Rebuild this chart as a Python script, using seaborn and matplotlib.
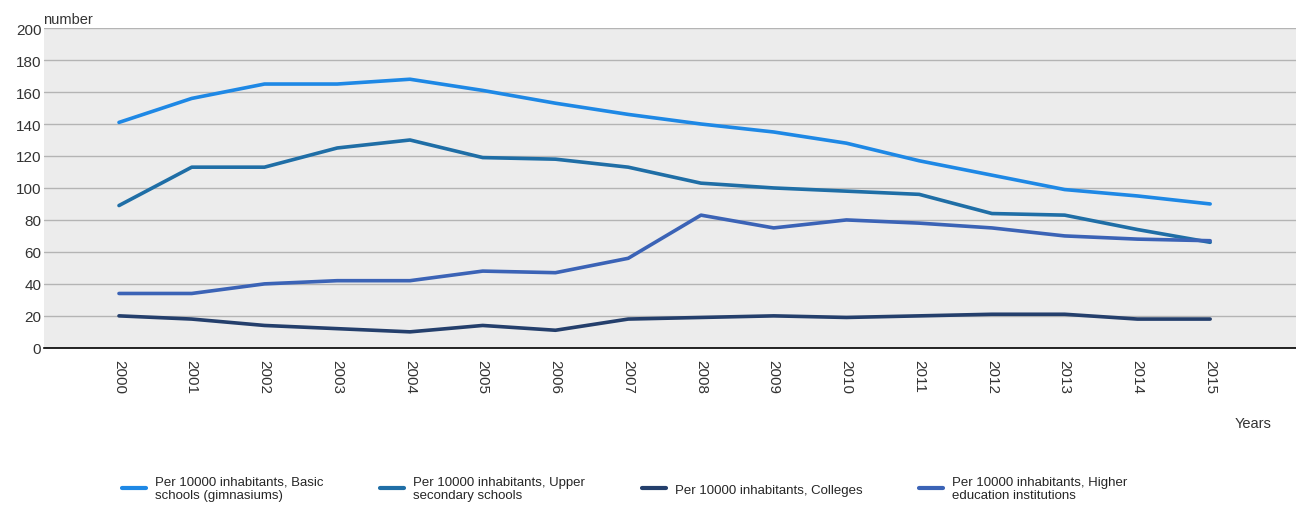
import pandas as pd
import seaborn as sns
import matplotlib.pyplot as plt

# dati
years = [str(y) for y in range(2000, 2016)]
basic = [141, 156, 165, 165, 168, 161, 153, 146, 140, 135, 128, 117, 108, 99, 95, 90]
upper = [89, 113, 113, 125, 130, 119, 118, 113, 103, 100, 98, 96, 84, 83, 74, 66]
colleges = [20, 18, 14, 12, 10, 14, 11, 18, 19, 20, 19, 20, 21, 21, 18, 18]
higher = [34, 34, 40, 42, 42, 48, 47, 56, 83, 75, 80, 78, 75, 70, 68, 67]

labels = ["Per 10000 inhabitants, Basic\nschools (gimnasiums)",
          "Per 10000 inhabitants, Upper\nsecondary schools",
          "Per 10000 inhabitants, Colleges",
          "Per 10000 inhabitants, Higher\neducation institutions"]
colors = ["#1e88e5", "#1f6ea6", "#243f6c", "#3b63b6"]

df = pd.DataFrame({"year": years * 4,
                   "value": basic + upper + colleges + higher,
                   "series": [l for l in labels for _ in years]})

sns.set_style("white")
plt.rcParams['font.family'] = ['Liberation Sans', 'DejaVu Sans']

fig = plt.figure(figsize=(12.96, 5.10), dpi=100)
ax = fig.add_axes([0.034, 0.316, 0.966, 0.627])
ax.set_facecolor("#ececec")

sns.lineplot(data=df, x="year", y="value", hue="series", palette=colors,
             linewidth=2.6, ax=ax, legend=False, sort=False)

ax.set_ylim(0, 200)
ax.set_yticks(range(0, 201, 20))
ax.set_xlim(-1.03, 16.18)
ax.grid(axis="y", color="#b4b4b4", linewidth=1)
ax.set_axisbelow(True)
for s in ["top", "right", "left"]:
    ax.spines[s].set_visible(False)
ax.spines["bottom"].set_color("black")
ax.spines["bottom"].set_linewidth(1.2)
ax.tick_params(axis="x", rotation=-90, labelsize=11, length=0, pad=8, colors="#333333")
ax.tick_params(axis="y", labelsize=11, length=0, pad=2, colors="#333333")
ax.set_xlabel("")
ax.set_ylabel("")

fig.text(0.033, 0.948, "number", fontsize=10.5, color="#333333", va="bottom")
fig.text(0.953, 0.16, "Years", fontsize=10.5, color="#333333")

handles = [plt.Line2D([], [], color=c, linewidth=3) for c in colors]
fig.legend(handles, labels, loc="center", bbox_to_anchor=(0.482, 0.04), ncol=4,
           frameon=False, fontsize=9.5, handlelength=1.8, columnspacing=4.3,
           labelspacing=0.2, handletextpad=0.7)

plt.savefig("out.png", dpi=100)
